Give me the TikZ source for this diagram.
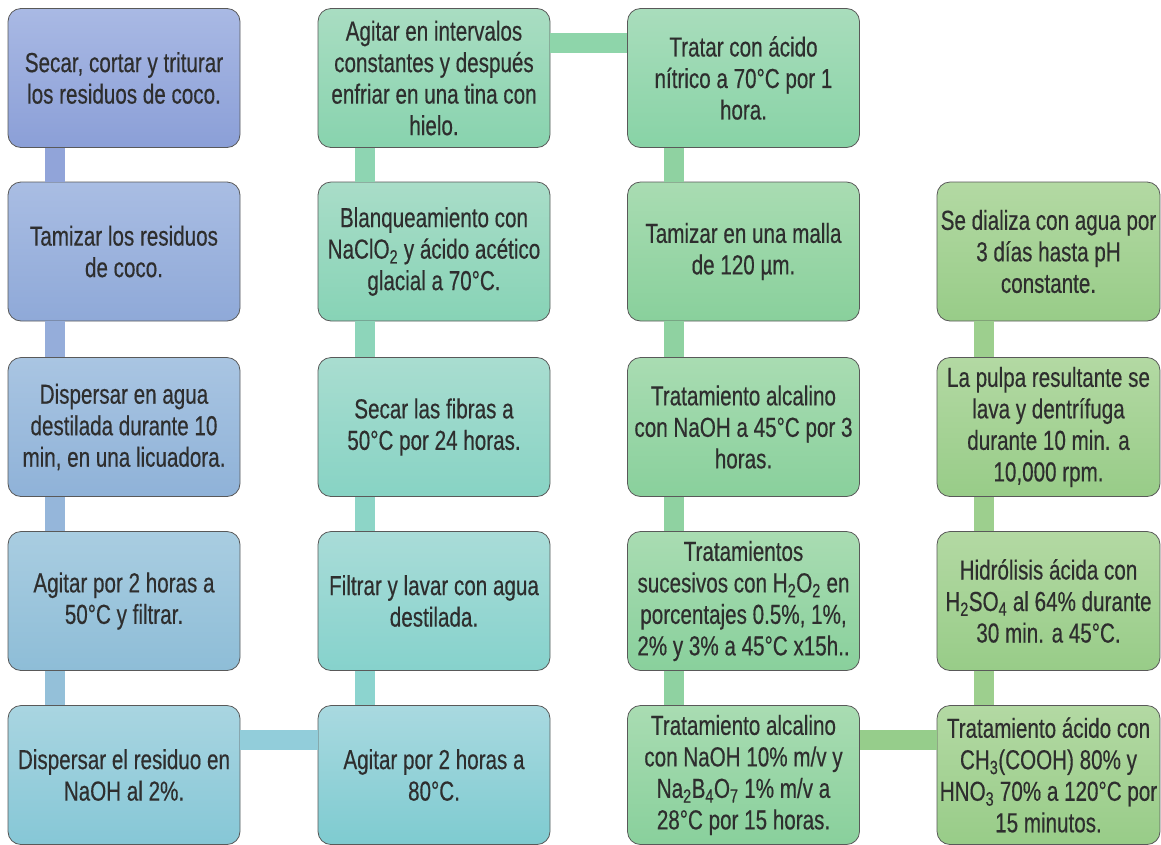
\documentclass[tikz,border=0pt]{standalone}
\usepackage{fontspec}
\setmainfont{Liberation Sans}[FakeStretch=0.75, FakeBold=0.4]
\newcommand\boxfont{\fontsize{27.5}{31.5}\selectfont}
\begin{document}
\begin{tikzpicture}[x=1pt,y=-1pt,
  box/.style={draw=black!65, line width=0.8pt, rounded corners=13pt, minimum width=232pt, minimum height=139pt,
    text width=230pt, align=flush center, inner sep=0pt, text=black!82, font=\boxfont},
  narrowbox/.style={box, minimum width=223pt, text width=222pt},
  conn/.style={line width=20pt, line cap=butt}]
\useasboundingbox (0,0) rectangle (1161,844);
\definecolor{b1t}{HTML}{A9B9E4}\definecolor{b1b}{HTML}{8B9FD7}
\definecolor{b2t}{HTML}{A9BDE3}\definecolor{b2b}{HTML}{8FA9D8}
\definecolor{b3t}{HTML}{A9C5E2}\definecolor{b3b}{HTML}{8FB2D8}
\definecolor{b4t}{HTML}{A9CDE1}\definecolor{b4b}{HTML}{8EBDD7}
\definecolor{b5t}{HTML}{A9D5E1}\definecolor{b5b}{HTML}{86C7D6}
\definecolor{g5t}{HTML}{A9D9E0}\definecolor{g5b}{HTML}{7ECBD0}
\definecolor{g4t}{HTML}{A9DCD8}\definecolor{g4b}{HTML}{86D2CC}
\definecolor{g3t}{HTML}{A9DDD0}\definecolor{g3b}{HTML}{87D3C4}
\definecolor{g2t}{HTML}{A9DDC8}\definecolor{g2b}{HTML}{87D3B6}
\definecolor{g1t}{HTML}{A9DDC2}\definecolor{g1b}{HTML}{88D3AE}
\definecolor{h1t}{HTML}{A9DDBC}\definecolor{h1b}{HTML}{88D3A6}
\definecolor{ht}{HTML}{A9DCB2}\definecolor{hb}{HTML}{89D09C}
\definecolor{kt}{HTML}{B3D9A3}\definecolor{kb}{HTML}{98CC88}
% column 1
\node[box, top color=b1t, bottom color=b1b] (a1) at (124,78) {Secar, cortar y triturar\\los residuos de coco.};
\node[box, top color=b2t, bottom color=b2b] (a2) at (124,251.5) {Tamizar los residuos\\de coco.};
\node[box, top color=b3t, bottom color=b3b] (a3) at (124,427) {Dispersar en agua\\destilada durante 10\\min, en una licuadora.};
\node[box, top color=b4t, bottom color=b4b] (a4) at (124,601) {Agitar por 2 horas a\\50°C y filtrar.};
\node[box, top color=b5t, bottom color=b5b] (a5) at (124,775) {Dispersar el residuo en\\NaOH al 2\%.};
% column 2
\node[box, top color=g5t, bottom color=g5b] (b5) at (434,775) {Agitar por 2 horas a\\80°C.};
\node[box, top color=g4t, bottom color=g4b] (b4) at (434,601) {Filtrar y lavar con agua\\destilada.};
\node[box, top color=g3t, bottom color=g3b] (b3) at (434,427) {Secar las fibras a\\50°C por 24 horas.};
\node[box, top color=g2t, bottom color=g2b] (b2) at (434,251.5) {Blanqueamiento con\\NaClO\textsubscript{2} y ácido acético\\glacial a 70°C.};
\node[box, top color=g1t, bottom color=g1b] (b1) at (434,78) {Agitar en intervalos\\constantes y después\\enfriar en una tina con\\hielo.};
% column 3
\node[box, top color=h1t, bottom color=h1b] (c1) at (743.5,78) {Tratar con ácido\\nítrico a 70°C por 1\\hora.};
\node[box, top color=ht, bottom color=hb] (c2) at (743.5,251.5) {Tamizar en una malla\\de 120 µm.};
\node[box, top color=ht, bottom color=hb] (c3) at (743.5,427) {Tratamiento alcalino\\con NaOH a 45°C por 3\\horas.};
\node[box, top color=ht, bottom color=hb] (c4) at (743.5,601) {Tratamientos\\sucesivos con H\textsubscript{2}O\textsubscript{2} en\\porcentajes 0.5\%, 1\%,\\2\% y 3\% a 45°C x15h..};
\node[box, top color=ht, bottom color=hb] (c5) at (743.5,775) {Tratamiento alcalino\\con NaOH 10\% m/v y\\Na\textsubscript{2}B\textsubscript{4}O\textsubscript{7} 1\% m/v a\\28°C por 15 horas.};
% column 4
\node[narrowbox, top color=kt, bottom color=kb] (d5) at (1048.5,775) {Tratamiento ácido con\\CH\textsubscript{3}(COOH) 80\% y\\HNO\textsubscript{3} 70\% a 120°C por\\15 minutos.};
\node[narrowbox, top color=kt, bottom color=kb] (d4) at (1048.5,601) {Hidrólisis ácida con\\H\textsubscript{2}SO\textsubscript{4} al 64\% durante\\30 min. a 45°C.};
\node[narrowbox, top color=kt, bottom color=kb] (d3) at (1048.5,427) {La pulpa resultante se\\lava y dentrífuga\\durante 10 min. a\\10,000 rpm.};
\node[narrowbox, top color=kt, bottom color=kb] (d2) at (1048.5,251.5) {Se dializa con agua por\\3 días hasta pH\\constante.};
% connectors
\draw[conn, color=b1b!95!white] ([xshift=47pt]a1.south west) -- ([xshift=47pt]a2.north west);
\draw[conn, color=b2b!95!white] ([xshift=47pt]a2.south west) -- ([xshift=47pt]a3.north west);
\draw[conn, color=b3b!95!white] ([xshift=47pt]a3.south west) -- ([xshift=47pt]a4.north west);
\draw[conn, color=b4b!95!white] ([xshift=47pt]a4.south west) -- ([xshift=47pt]a5.north west);
\draw[conn, color=b5b!90!white] ([yshift=-34.5pt]a5.north east) -- ([yshift=-34.5pt]b5.north west);
\draw[conn, color=g4b!95!white] ([xshift=47pt]b5.north west) -- ([xshift=47pt]b4.south west);
\draw[conn, color=g3b!95!white] ([xshift=47pt]b4.north west) -- ([xshift=47pt]b3.south west);
\draw[conn, color=g2b!95!white] ([xshift=47pt]b3.north west) -- ([xshift=47pt]b2.south west);
\draw[conn, color=g1b!95!white] ([xshift=47pt]b2.north west) -- ([xshift=47pt]b1.south west);
\draw[conn, color=h1b!95!white] ([yshift=-34.5pt]b1.north east) -- ([yshift=-34.5pt]c1.north west);
\draw[conn, color=hb!95!white] ([xshift=47pt]c1.south west) -- ([xshift=47pt]c2.north west);
\draw[conn, color=hb!95!white] ([xshift=47pt]c2.south west) -- ([xshift=47pt]c3.north west);
\draw[conn, color=hb!95!white] ([xshift=47pt]c3.south west) -- ([xshift=47pt]c4.north west);
\draw[conn, color=hb!95!white] ([xshift=47pt]c4.south west) -- ([xshift=47pt]c5.north west);
\draw[conn, color=kb!85!hb] ([yshift=-34.5pt]c5.north east) -- ([yshift=-34.5pt]d5.north west);
\draw[conn, color=kb!95!white] ([xshift=47pt]d5.north west) -- ([xshift=47pt]d4.south west);
\draw[conn, color=kb!95!white] ([xshift=47pt]d4.north west) -- ([xshift=47pt]d3.south west);
\draw[conn, color=kb!95!white] ([xshift=47pt]d3.north west) -- ([xshift=47pt]d2.south west);
\end{tikzpicture}
\end{document}
